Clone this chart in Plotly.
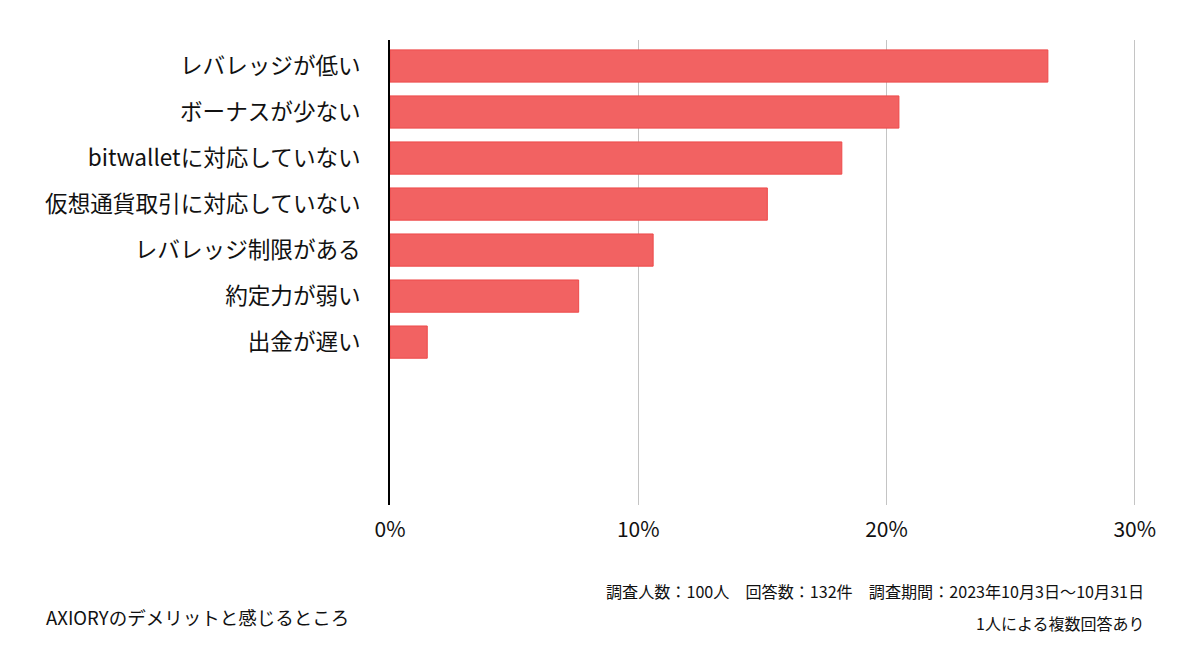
import plotly.graph_objects as go

categories = [
    "レバレッジが低い",
    "ボーナスが少ない",
    "bitwalletに対応していない",
    "仮想通貨取引に対応していない",
    "レバレッジ制限がある",
    "約定力が弱い",
    "出金が遅い",
]
values = [26.5, 20.5, 18.2, 15.2, 10.6, 7.6, 1.5]
x_ticks = [0, 10, 20, 30]
x_tick_labels = ["0%", "10%", "20%", "30%"]

caption_left = "AXIORYのデメリットと感じるところ"
caption_right_1 = "調査人数：100人　回答数：132件　調査期間：2023年10月3日〜10月31日"
caption_right_2 = "1人による複数回答あり"

FONT = "Noto Sans CJK JP"

fig = go.Figure(
    go.Bar(
        x=values,
        y=categories,
        orientation="h",
        marker=dict(color="#F26262", line=dict(color="#EE4A4A", width=1)),
        hoverinfo="x+y",
    )
)

fig.update_layout(
    width=1200,
    height=664,
    margin=dict(l=390, r=64, t=40, b=159),
    paper_bgcolor="white",
    plot_bgcolor="white",
    bargap=0.30,
    showlegend=False,
    font=dict(family=FONT, color="#111111"),
)

fig.update_xaxes(
    range=[0, 30.05],
    tickvals=x_ticks,
    ticktext=x_tick_labels,
    showgrid=True,
    gridcolor="#C4C4C4",
    gridwidth=1,
    zeroline=False,
    showline=False,
    tickfont=dict(size=21, family=FONT, color="#111111"),
    ticks="",
    ticklabelstandoff=10,
    fixedrange=True,
)

fig.update_yaxes(
    type="category",
    categoryarray=categories,
    range=[9.54, -0.565],
    showgrid=False,
    zeroline=False,
    showline=True,
    linecolor="#000000",
    linewidth=1.5,
    ticks="",
    tickfont=dict(size=22.6, family=FONT, color="#111111"),
    ticklabelstandoff=23,
    fixedrange=True,
)

fig.add_annotation(
    text=caption_left, xref="paper", yref="paper",
    x=(44 - 390) / 746, y=(664 - 159 - 617) / 465,
    xanchor="left", yanchor="middle", showarrow=False,
    font=dict(size=18.5, family=FONT, color="#111111"),
)
fig.add_annotation(
    text=caption_right_1, xref="paper", yref="paper",
    x=(1146 - 390) / 746, y=(664 - 159 - 591) / 465,
    xanchor="right", yanchor="middle", showarrow=False,
    font=dict(size=16.1, family=FONT, color="#111111"),
)
fig.add_annotation(
    text=caption_right_2, xref="paper", yref="paper",
    x=(1146 - 390) / 746, y=(664 - 159 - 623) / 465,
    xanchor="right", yanchor="middle", showarrow=False,
    font=dict(size=16, family=FONT, color="#111111"),
)

fig.write_html("out.html")
